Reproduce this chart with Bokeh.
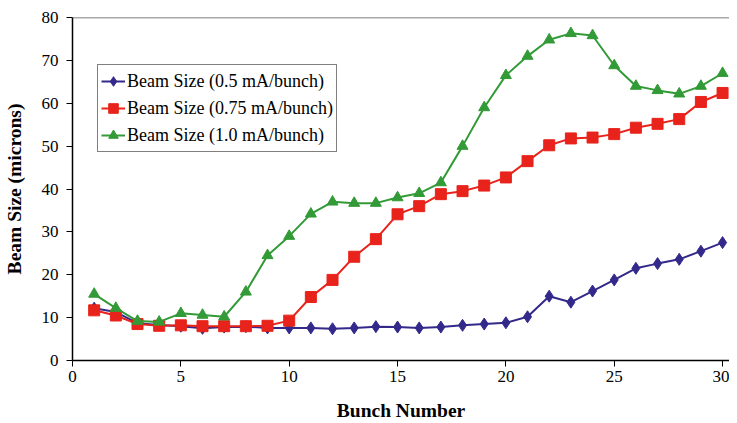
from bokeh.plotting import figure
from bokeh.models import Legend, LegendItem, Span, FixedTicker, Range1d, ColumnDataSource
from bokeh.embed import file_html
from bokeh.resources import INLINE

bunch = list(range(1, 31))
beam_05 = [12.2, 11.3, 8.7, 8.3, 8.0, 7.5, 7.8, 7.9, 7.6, 7.6, 7.6, 7.4, 7.6, 7.9, 7.8,
           7.6, 7.8, 8.2, 8.5, 8.8, 10.2, 15.0, 13.6, 16.2, 18.8, 21.5, 22.6, 23.6, 25.5, 27.5]
beam_075 = [11.7, 10.5, 8.5, 8.1, 8.2, 8.0, 8.0, 8.0, 8.1, 9.3, 14.8, 18.8, 24.2, 28.3, 34.1,
            36.0, 38.8, 39.5, 40.8, 42.7, 46.5, 50.2, 51.8, 52.0, 52.8, 54.3, 55.2, 56.3, 60.3, 62.4]
beam_10 = [15.5, 12.2, 9.2, 9.0, 11.0, 10.6, 10.2, 16.0, 24.5, 29.0, 34.2, 37.0, 36.7, 36.7, 38.0,
           39.0, 41.5, 50.0, 59.0, 66.5, 71.0, 74.8, 76.3, 75.8, 68.8, 64.0, 63.0, 62.2, 64.0, 67.0]
labels = ["Beam Size (0.5 mA/bunch)", "Beam Size (0.75 mA/bunch)", "Beam Size (1.0 mA/bunch)"]
x_ticks = [0, 5, 10, 15, 20, 25, 30]
y_ticks = [0, 10, 20, 30, 40, 50, 60, 70, 80]

FONT = "'Liberation Serif', 'Times New Roman', serif"

p = figure(width=729, height=423, output_backend="svg", toolbar_location=None,
           x_range=Range1d(0, 30.32), y_range=Range1d(0, 80),
           min_border_left=0, min_border_right=0, min_border_top=17, min_border_bottom=0)
p.outline_line_color = None
p.xgrid.visible = False
p.ygrid.visible = False

p.xaxis.ticker = FixedTicker(ticks=x_ticks)
p.yaxis.ticker = FixedTicker(ticks=y_ticks)
for ax in (p.xaxis[0], p.yaxis[0]):
    ax.major_label_text_font = FONT
    ax.major_label_text_font_size = "17px"
    ax.major_label_text_color = "black"
    ax.axis_label_text_font = FONT
    ax.axis_label_text_font_size = "19.5px"
    ax.axis_label_text_font_style = "bold"
    ax.axis_label_text_color = "black"
    ax.axis_line_color = "black"
    ax.axis_line_width = 1.5
    ax.major_tick_line_color = "black"
    ax.major_tick_in = 0
    ax.major_tick_out = 6
    ax.minor_tick_line_color = None
p.xaxis.axis_label = "Bunch Number"
p.yaxis.axis_label = "Beam Size (microns)"
p.xaxis.major_label_standoff = 4
p.yaxis.major_label_standoff = 8
p.xaxis.axis_label_standoff = 15
p.yaxis.axis_label_standoff = 14

p.add_layout(Span(location=80, dimension="width", line_color="#555555", line_width=1.5))

colors = ["#33298a", "#e8231b", "#329a36"]
markers = ["diamond", "square", "triangle"]
plot_sizes = [12, 11, 11]

items = []
for ys, lab, col, mk, sz in zip([beam_05, beam_075, beam_10], labels, colors, markers, plot_sizes):
    src = ColumnDataSource(dict(x=bunch, y=ys))
    lr = p.line("x", "y", source=src, line_color=col, line_width=2)
    sr = p.scatter("x", "y", source=src, marker=mk, size=sz, fill_color=col, line_color=col)
    items.append(LegendItem(label=lab, renderers=[lr, sr]))

legend = Legend(items=items, location=(25, 208))
legend.label_text_font = FONT
legend.label_text_font_size = "18px"
legend.label_text_color = "black"
legend.border_line_color = "black"
legend.border_line_width = 1
legend.background_fill_alpha = 1
legend.padding = 3
legend.spacing = 1
legend.margin = 0
legend.glyph_width = 24
legend.glyph_height = 26
legend.label_height = 26
legend.label_standoff = 2
p.add_layout(legend)

open("out.html", "w").write(file_html(p, INLINE))
